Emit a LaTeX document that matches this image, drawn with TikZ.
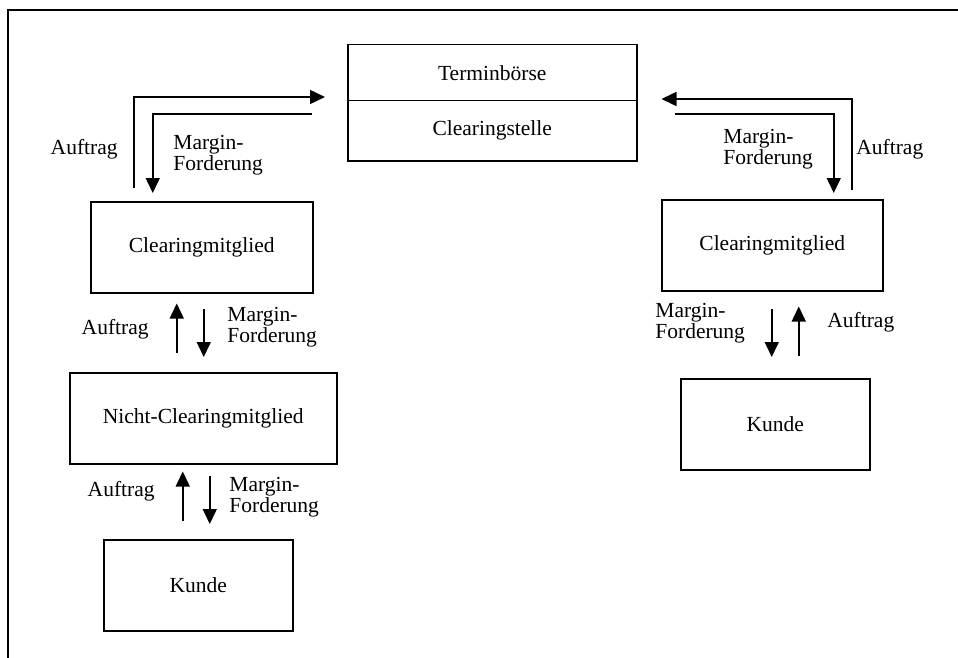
\documentclass[tikz,border=0pt]{standalone}
\usepackage{fontspec}
\setmainfont{Liberation Serif}
\usetikzlibrary{arrows.meta}
\begin{document}
\begin{tikzpicture}[x=0.5pt,y=-0.5pt,
  font=\fontsize{10.75}{10.5}\selectfont,
  box/.style={draw, line width=0.75pt, inner sep=0pt, anchor=north west, minimum height=45.5pt},
  arr/.style={line width=0.75pt, -{Triangle[length=7.5pt,width=7pt]}},
  lbl/.style={inner sep=0pt, anchor=base west, align=left},
  lblr/.style={inner sep=0pt, anchor=base east, align=left},
  frame/.style={line width=0.75pt}]
\useasboundingbox (0,0) rectangle (958,658);

% open frame (top and left edge)
\draw[frame] (958,10) -- (8,10) -- (8,658);

% exchange and clearing house
\node[box, minimum width=144.5pt, minimum height=28pt] (tb) at (347,44) {Terminbörse};
\node[box, minimum width=144.5pt, minimum height=30pt] (cs) at (347,100) {Clearingstelle};

% left chain
\node[box, minimum width=111pt] (cmL) at (90,201) {Clearingmitglied};
\node[box, minimum width=133.5pt] (ncm) at (69,372) {Nicht-Clearingmitglied};
\node[box, minimum width=94.5pt] (kL) at (103,539) {Kunde};

% right chain
\node[box, minimum width=110.5pt] (cmR) at (661,199) {Clearingmitglied};
\node[box, minimum width=94.5pt] (kR) at (680,378) {Kunde};

% clearing member <-> clearing house
\draw[arr] ([shift={(-68,-13)}]cmL.north) |- ([shift={(-22,-3)}]cs.north west);
\draw[arr] ([shift={(-35,14)}]cs.north west) -| ([shift={(-49,-8)}]cmL.north);
\draw[arr] ([shift={(79.5,-9)}]cmR.north) |- ([shift={(24,-1)}]cs.north east);
\draw[arr] ([shift={(37,14)}]cs.north east) -| ([shift={(61.5,-6)}]cmR.north);

% left chain links
\draw[arr] ([shift={(-26.5,-19)}]ncm.north) -- ([shift={(-25,10)}]cmL.south);
\draw[arr] ([shift={(2,15)}]cmL.south) -- ([shift={(0.5,-15)}]ncm.north);
\draw[arr] ([shift={(-15.5,-18)}]kL.north) -- ([shift={(-20.5,7)}]ncm.south);
\draw[arr] ([shift={(6.5,11)}]ncm.south) -- ([shift={(11.5,-15)}]kL.north);

% right chain links
\draw[arr] ([shift={(-0.5,17)}]cmR.south) -- ([shift={(-3.5,-21)}]kR.north);
\draw[arr] ([shift={(23.5,-22)}]kR.north) -- ([shift={(26.5,15)}]cmR.south);

% labels (two-line labels are placed by the baseline of their last line)
\node[lblr] (l1a) at (118,155) {Auftrag};
\node[lbl] (l1m) at (173,170) {Margin-\\Forderung};
\node[lbl] (l2m) at (723,164) {Margin-\\Forderung};
\node[lbl] (l2a) at (856,155) {Auftrag};
\node[lblr] (l3a) at (149,334) {Auftrag};
\node[lbl] (l3m) at (227,342) {Margin-\\Forderung};
\node[lblr] (l4a) at (155,496) {Auftrag};
\node[lbl] (l4m) at (229,512) {Margin-\\Forderung};
\node[lbl] (l5m) at (655,338) {Margin-\\Forderung};
\node[lbl] (l5a) at (827,327) {Auftrag};
\end{tikzpicture}
\end{document}
